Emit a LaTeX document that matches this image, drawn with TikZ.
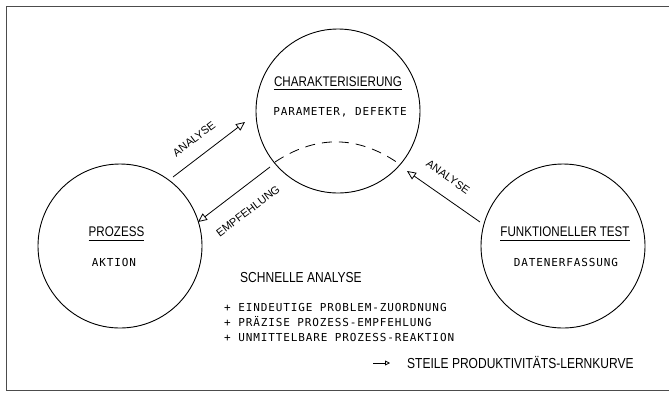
\documentclass[tikz,border=0pt]{standalone}
\usepackage{fontspec}
\setmainfont{Liberation Sans}
\newfontfamily\narrowf[FakeStretch=0.83]{Liberation Sans}
\newfontfamily\cadf[LetterSpace=8]{DejaVu Sans Mono}
\usetikzlibrary{arrows.meta}
\tikzset{
  head/.style={font=\narrowf\fontsize{14}{16}\selectfont, anchor=base, inner sep=0pt},
  big/.style={font=\narrowf\fontsize{14.5}{16}\selectfont, anchor=base west, inner sep=0pt},
  cad/.style={font=\cadf\fontsize{11}{13}\selectfont, anchor=base, inner sep=0pt},
  lbl/.style={font=\fontsize{11}{13}\selectfont, inner sep=0pt},
  ring/.style={circle, draw, line width=0.9pt, minimum size=164pt, inner sep=0pt},
  flow/.style={line width=0.8pt, -{Triangle[open, length=9pt, width=8pt]}},
  frame/.style={line width=1.6pt, draw=black!70}
}
\begin{document}
\begin{tikzpicture}[x=1pt, y=-1pt]
\useasboundingbox (0,0) rectangle (669,392);
% frame
\coordinate (ftr) at (669,6.5);
\coordinate (ftl) at (6.5,6.5);
\coordinate (fbl) at (6.5,390.5);
\coordinate (fbr) at (669,390.5);
\draw[frame] (ftr) -- (ftl) -- (fbl) -- (fbr);
% circles
\node[ring] (char) at (338,111) {};
\node[ring] (proz) at (120,246) {};
\node[ring] (funk) at (563,246) {};
% circle texts
\node[head] (charT) at (338,86) {CHARAKTERISIERUNG};
\draw[line width=0.8pt] ([yshift=-3.5pt]charT.base west) -- ([yshift=-3.5pt]charT.base east);
\node[cad] (charS) at (340,115) {PARAMETER, DEFEKTE};
\node[head] (prozT) at (116.5,236) {PROZESS};
\draw[line width=0.8pt] ([yshift=-4.5pt]prozT.base west) -- ([yshift=-4.5pt]prozT.base east);
\node[cad] (prozS) at (114,266) {AKTION};
\node[head] (funkT) at (565,236) {FUNKTIONELLER TEST};
\draw[line width=0.8pt] ([yshift=-4.5pt]funkT.base west) -- ([yshift=-4.5pt]funkT.base east);
\node[cad] (funkS) at (566,266) {DATENERFASSUNG};
% dashed arc inside the upper circle
\coordinate (arcA) at (275,162);
\coordinate (arcB) at (398,163);
\draw[line width=0.8pt, dash pattern=on 10pt off 7pt] (arcA) .. controls (316,135) and (357,135) .. (arcB);
% connectors
\coordinate (a1s) at (173,177);
\coordinate (a1e) at (245,122);
\coordinate (e1s) at (270,167);
\coordinate (e1e) at (198,222);
\coordinate (a2s) at (480,222);
\coordinate (a2e) at (407,171);
\draw[flow] (a1s) -- (a1e);
\draw[flow] (e1s) -- (e1e);
\draw[flow] (a2s) -- (a2e);
\node[lbl, rotate=37] (l1) at (194,139) {ANALYSE};
\node[lbl, rotate=37] (l2) at (248,211) {EMPFEHLUNG};
\node[lbl, rotate=-35] (l3) at (448,177) {ANALYSE};
% summary text
\node[big] (sa) at (240,282) {SCHNELLE ANALYSE};
\node[cad, anchor=base west] (b1) at (224,311) {+ EINDEUTIGE PROBLEM-ZUORDNUNG};
\node[cad, anchor=base west] (b2) at (224,326) {+ PRÄZISE PROZESS-EMPFEHLUNG};
\node[cad, anchor=base west] (b3) at (224,341) {+ UNMITTELBARE PROZESS-REAKTION};
\coordinate (rs) at (373,363);
\coordinate (re) at (390,363);
\draw[line width=0.8pt, -{Triangle[open, length=5pt, width=5pt]}] (rs) -- (re);
\node[big] (res) at (407,368) {STEILE PRODUKTIVITÄTS-LERNKURVE};
\end{tikzpicture}
\end{document}
